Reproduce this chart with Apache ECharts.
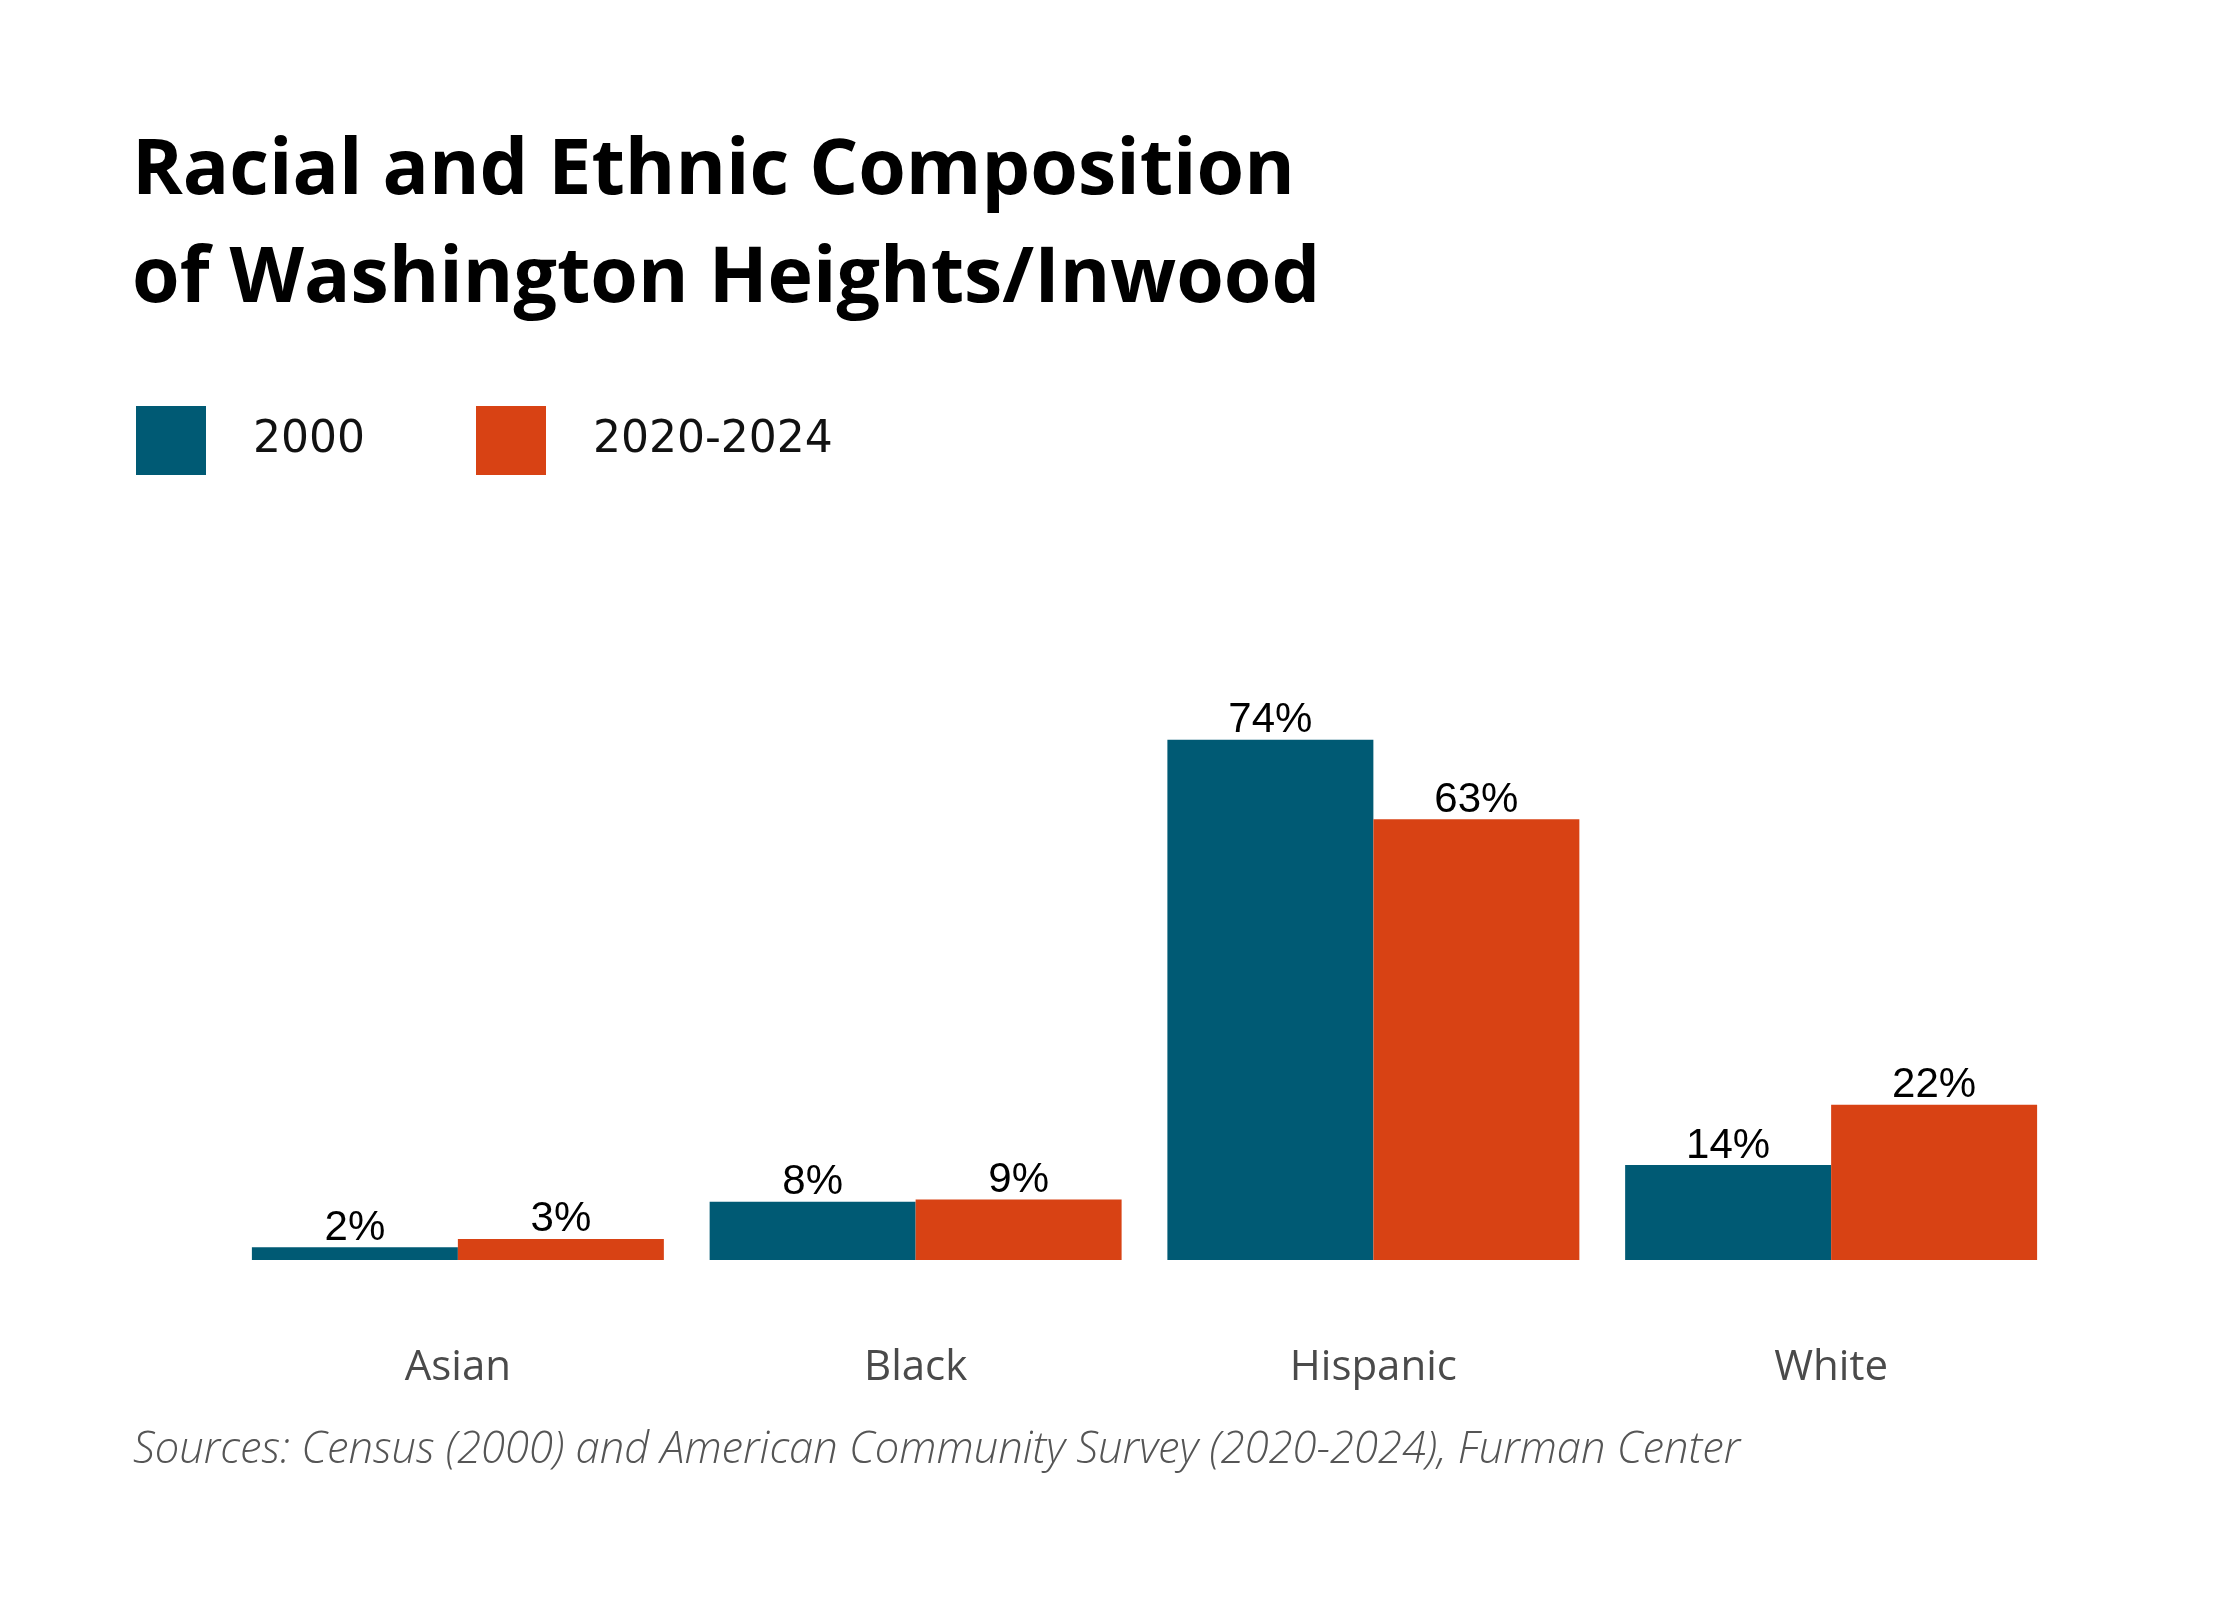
<!DOCTYPE html>
<html>
<head>
<meta charset="utf-8">
<script src="https://cdn.jsdelivr.net/npm/echarts@6/dist/echarts.min.js"></script>
<style>
  html, body { margin: 0; padding: 0; background: #fff; }
  #chart { width: 2240px; height: 1600px; }
</style>
</head>
<body>
<div id="chart"></div>
<script>
// categories and shares (percent)
var groups = ['Asian', 'Black', 'Hispanic', 'White'];
var share2000 = [1.8, 8.3, 74.0, 13.5];
var shareRecent = [3.0, 8.6, 62.7, 22.1];
var seriesNames = ['2000', '2020-2024'];

var blue = '#005a74';
var orange = '#d84214';

var myChart = echarts.init(document.getElementById('chart'));

var labelStyle = {
  show: true,
  position: 'top',
  distance: -2,
  fontFamily: 'Liberation Sans',
  fontSize: 42,
  color: '#000',
  formatter: function (p) { return Math.round(p.value) + '%'; }
};

var legendText = { fontFamily: 'DejaVu Sans', fontSize: 44, color: '#111', padding: [24, 0, 0, 42] };

var option = {
  backgroundColor: '#fff',
  animation: false,
  title: {
    text: 'Racial and Ethnic Composition\nof Washington Heights/Inwood',
    left: 127,
    top: 113,
    textStyle: { fontFamily: 'Open Sans', fontWeight: 'bold', fontSize: 77, lineHeight: 108, color: '#000' }
  },
  legend: [
    { data: [seriesNames[0]], left: 131, top: 401, itemWidth: 70, itemHeight: 69, icon: 'rect', textStyle: legendText },
    { data: [seriesNames[1]], left: 471, top: 401, itemWidth: 70, itemHeight: 69, icon: 'rect', textStyle: legendText }
  ],
  grid: { left: 229, right: 180, top: 557, bottom: 340 },
  xAxis: {
    type: 'category',
    data: groups,
    axisLine: { show: false },
    axisTick: { show: false },
    axisLabel: { margin: 87, fontFamily: 'Open Sans', fontSize: 42, color: '#4a4a4a' }
  },
  yAxis: {
    type: 'value',
    min: 0,
    max: 100,
    show: false,
    splitLine: { show: false }
  },
  series: [
    {
      name: seriesNames[0], type: 'bar', data: share2000,
      barGap: '0%', barCategoryGap: '10%',
      itemStyle: { color: blue }, label: labelStyle
    },
    {
      name: seriesNames[1], type: 'bar', data: shareRecent,
      barGap: '0%', barCategoryGap: '10%',
      itemStyle: { color: orange }, label: labelStyle
    }
  ],
  graphic: [{
    type: 'text',
    left: 133,
    top: 1429,
    style: {
      text: 'Sources: Census (2000) and American Community Survey (2020-2024), Furman Center',
      fontFamily: 'Open Sans', fontStyle: 'italic', fontWeight: 300, fontSize: 43.5, fill: '#555'
    }
  }]
};

myChart.setOption(option);
</script>
</body>
</html>
